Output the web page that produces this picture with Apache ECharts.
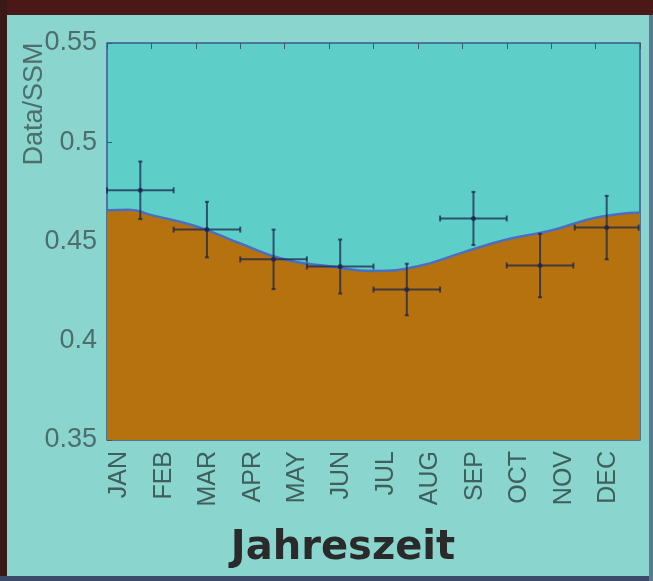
<!DOCTYPE html>
<html>
<head>
<meta charset="utf-8">
<script src="https://cdn.jsdelivr.net/npm/echarts@6/dist/echarts.min.js"></script>
<style>
html,body{margin:0;padding:0;background:#8ad6cf;}
#chart{width:653px;height:581px;}
</style>
</head>
<body>
<div id="chart"></div>
<script>
// ---- data ----
const months = ['JAN','FEB','MAR','APR','MAY','JUN','JUL','AUG','SEP','OCT','NOV','DEC'];
const yTickLabels = ['0.35','0.4','0.45','0.5','0.55'];
const curveX = [0, 0.5, 1, 2, 3, 4, 5, 6, 7, 8, 9, 10, 11, 12];
const curveY = [0.4657, 0.4660, 0.4633, 0.4577, 0.4490, 0.4409, 0.4375, 0.4352, 0.4375, 0.4444, 0.4510, 0.4555, 0.4620, 0.4646];
const pointX = [0.75, 2.25, 3.75, 5.25, 6.75, 8.25, 9.75, 11.25];
const pointY = [0.4758, 0.4560, 0.4410, 0.4374, 0.4258, 0.4616, 0.4379, 0.4570];
const errX = [0.75, 0.75, 0.75, 0.75, 0.75, 0.75, 0.75, 0.72];
const errY = [0.0145, 0.0140, 0.0150, 0.0136, 0.0130, 0.0134, 0.0160, 0.0160];

const curveData = curveX.map((x, i) => [x, curveY[i]]);
const errData = pointX.map((x, i) => [x, pointY[i], errX[i], errY[i]]);

const chart = echarts.init(document.getElementById('chart'), null, {renderer: 'canvas'});
const barColor = 'rgba(25,35,75,0.72)';

const option = {
  backgroundColor: '#8ad6cf',
  animation: false,
  title: {
    text: 'Jahreszeit',
    left: 338, top: 524, textAlign: 'center',
    textStyle: {fontFamily: 'DejaVu Sans', fontWeight: 'bold', fontSize: 40, color: '#2a2a2a'}
  },
  graphic: [
    {type: 'rect', shape: {x: 0, y: 0, width: 653, height: 15}, style: {fill: '#4a1816'}, z: -1},
    {type: 'rect', shape: {x: 0, y: 0, width: 7, height: 581}, style: {fill: '#3a1a16'}, z: -1},
    {type: 'rect', shape: {x: 0, y: 576, width: 653, height: 5}, style: {fill: '#3c4a6a'}, z: -1},
    {type: 'rect', shape: {x: 649, y: 15, width: 4, height: 566}, style: {fill: '#5a7a90'}, z: -1},
    {type: 'text', x: 35, y: 104, rotation: Math.PI / 2, style: {
      text: 'Data/SSM', fontFamily: 'Liberation Sans', fontSize: 27, fill: '#4d6e6c',
      align: 'center', verticalAlign: 'middle'}}
  ],
  grid: {left: 107, right: 13, top: 43, bottom: 141, show: true,
         backgroundColor: '#5ecfc8', borderColor: '#3b5a88', borderWidth: 1.5},
  xAxis: [{
    type: 'value', min: 0, max: 12, interval: 1,
    axisLine: {show: false},
    splitLine: {show: false},
    axisTick: {show: true, inside: true, length: 6, lineStyle: {color: '#3a3a50'}},
    axisLabel: {
      rotate: 90, margin: 11, fontFamily: 'Liberation Sans', fontSize: 25, color: '#3f5f5d',
      verticalAlign: 'top',
      showMaxLabel: false,
      formatter: v => months[Math.round(v)] || ''
    }
  }, {
    type: 'value', min: 0, max: 12, interval: 1, position: 'top',
    axisLine: {show: false}, splitLine: {show: false}, axisLabel: {show: false},
    axisTick: {show: true, inside: true, length: 6, lineStyle: {color: '#3a5a70'}}
  }],
  yAxis: [{
    type: 'value', min: 0.35, max: 0.55, interval: 0.05,
    axisLine: {show: false}, splitLine: {show: false},
    axisTick: {show: true, inside: true, length: 5, lineStyle: {color: '#3a5a70'}},
    axisLabel: {margin: 10, fontFamily: 'Liberation Sans', fontSize: 27, color: '#4d6e6c',
      formatter: v => yTickLabels[Math.round((v - 0.35) / 0.05)] || ''}
  }],
  series: [{
    type: 'line', data: curveData, smooth: 0.5, showSymbol: false, z: 2,
    lineStyle: {color: '#4a6fc0', width: 2.5},
    areaStyle: {color: '#b5720f', opacity: 1, origin: 'start'}
  }, {
    type: 'custom', z: 5, data: errData,
    renderItem: function (params, api) {
      const x = api.value(0), y = api.value(1), ex = api.value(2), ey = api.value(3);
      const c = api.coord([x, y]);
      const l = api.coord([x - ex, y]), r = api.coord([x + ex, y]);
      const t = api.coord([x, y + ey]), b = api.coord([x, y - ey]);
      const st = {stroke: barColor, lineWidth: 2};
      return {type: 'group', children: [
        {type: 'line', shape: {x1: l[0], y1: l[1], x2: r[0], y2: r[1]}, style: st},
        {type: 'line', shape: {x1: t[0], y1: t[1], x2: b[0], y2: b[1]}, style: st},
        {type: 'line', shape: {x1: l[0], y1: l[1] - 3, x2: l[0], y2: l[1] + 3}, style: st},
        {type: 'line', shape: {x1: r[0], y1: r[1] - 3, x2: r[0], y2: r[1] + 3}, style: st},
        {type: 'line', shape: {x1: t[0] - 2, y1: t[1], x2: t[0] + 2, y2: t[1]}, style: st},
        {type: 'line', shape: {x1: b[0] - 2, y1: b[1], x2: b[0] + 2, y2: b[1]}, style: st},
        {type: 'circle', shape: {cx: c[0], cy: c[1], r: 2.5}, style: {fill: barColor}}
      ]};
    }
  }]
};
chart.setOption(option);
</script>
</body>
</html>
